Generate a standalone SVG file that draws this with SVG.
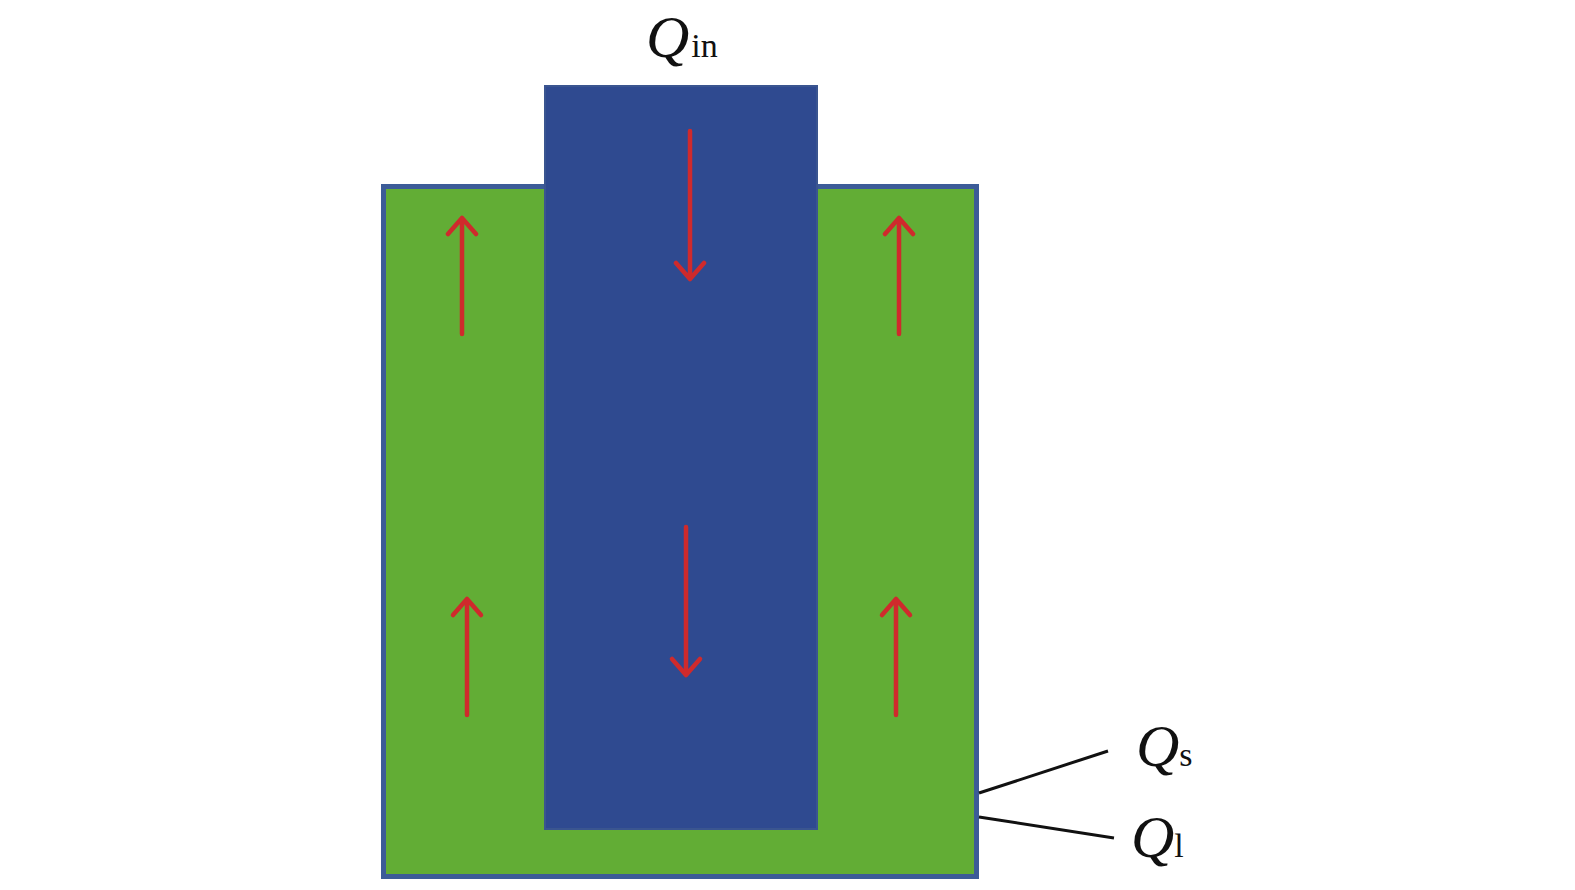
<svg xmlns="http://www.w3.org/2000/svg" width="1575" height="890" viewBox="0 0 1575 890">
<style>
.q{font-family:"Liberation Serif",serif;font-style:italic;font-size:60px;fill:#111}
.sub{font-family:"Liberation Serif",serif;font-size:34px;fill:#111}
.arr{stroke:#cf2a2c;stroke-width:4.5;fill:none;stroke-linecap:round;stroke-linejoin:round}
.lead{stroke:#111;stroke-width:3;fill:none}
</style>
<rect width="1575" height="890" fill="#fff"/>
<g id="outer">
<rect x="383.5" y="186.5" width="593" height="690" fill="#62ad35" stroke="#3c5c98" stroke-width="5"/>
</g>
<g id="inner">
<rect x="545" y="86" width="272" height="743" fill="#2f4a90" stroke="#3a5590" stroke-width="2"/>
</g>
<g id="arrows">
<path class="arr" d="M462 334V218M448 234L462 218L476 234"/>
<path class="arr" d="M467 715V599M453 615L467 599L481 615"/>
<path class="arr" d="M899 334V218M885 234L899 218L913 234"/>
<path class="arr" d="M896 715V599M882 615L896 599L910 615"/>
<path class="arr" d="M690 131V279M676 263L690 279L704 263"/>
<path class="arr" d="M686 527V675M672 659L686 675L700 659"/>
</g>
<g id="connectors">
<line class="lead" x1="979" y1="793" x2="1108" y2="751"/>
<line class="lead" x1="979" y1="817" x2="1114" y2="838"/>
</g>
<g id="labels">
<text x="646" y="57"><tspan class="q">Q</tspan><tspan class="sub" dx="2">in</tspan></text>
<text x="1136" y="766"><tspan class="q">Q</tspan><tspan class="sub" dx="0">s</tspan></text>
<text x="1131" y="857"><tspan class="q">Q</tspan><tspan class="sub" dx="0">l</tspan></text>
</g>
</svg>
